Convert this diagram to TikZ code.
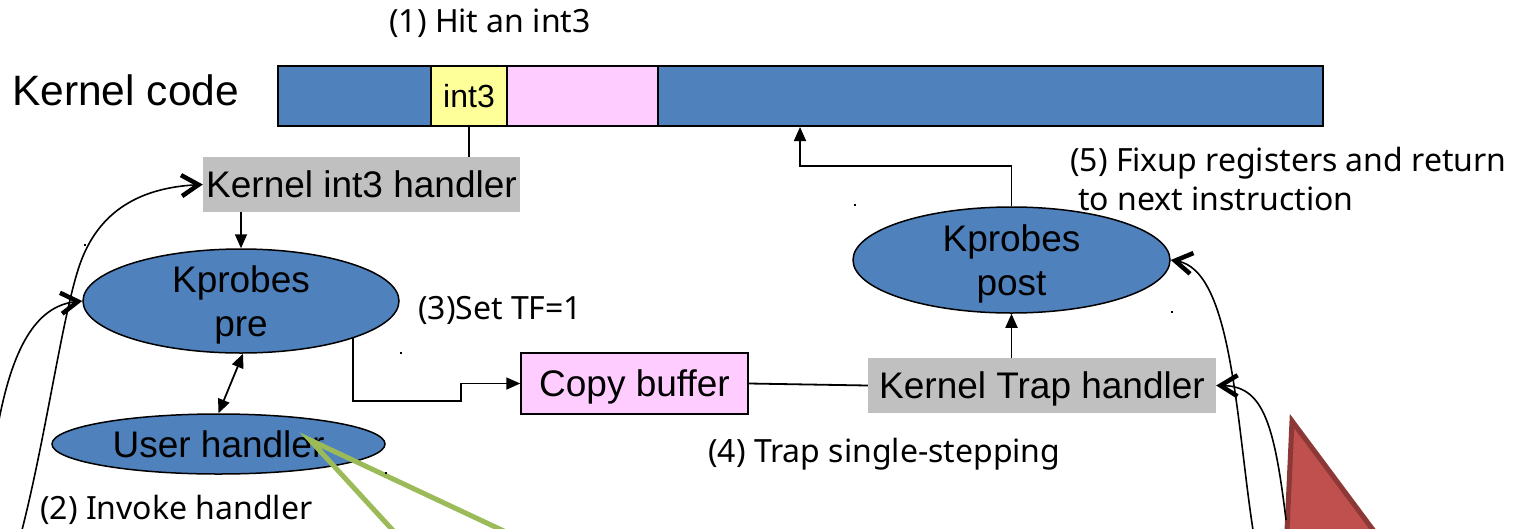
\documentclass[tikz,border=0pt]{standalone}
\usepackage{fontspec}
\setmainfont{Liberation Sans}
\newfontfamily\notefont{Noto Sans}
\usetikzlibrary{shapes.geometric,arrows.meta}
\definecolor{codeblue}{HTML}{4F81BD}
\definecolor{int3yellow}{HTML}{FFFF99}
\definecolor{bufpink}{HTML}{FFCCFF}
\definecolor{handlergray}{HTML}{C0C0C0}
\definecolor{leafgreen}{HTML}{9BBB59}
\definecolor{trifill}{HTML}{C0504D}
\definecolor{triedge}{HTML}{8C3836}
\tikzset{
  big/.style={font=\fontsize{37}{44}\selectfont},
  seg/.style={draw=black, line width=2pt, minimum height=60pt, inner sep=0pt, anchor=west},
  handlerbox/.style={fill=handlergray, inner sep=0pt, minimum height=55pt, text depth=0pt, big},
  probe/.style={ellipse, draw=black, line width=1.5pt, fill=codeblue, inner sep=0pt, align=center, text depth=0pt, big},
  note/.style={font=\notefont\fontsize{32}{38}\selectfont, anchor=base west, inner sep=0pt},
  flow/.style={line width=1.8pt, -{Triangle[length=14pt,width=12pt]}},
  dflow/.style={line width=1.8pt, {Triangle[length=14pt,width=12pt]}-{Triangle[length=14pt,width=12pt]}},
  flowline/.style={line width=1.8pt},
  callcurve/.style={line width=1.6pt, -{Straight Barb[length=17pt,width=21pt,line width=4.5pt]}},
  speck/.style={fill=black},
}
\begin{document}
\begin{tikzpicture}[x=1pt,y=-1pt]
\useasboundingbox (0,0) rectangle (1521,528);
\clip (0,0) rectangle (1521,528);

% kernel code bar
\node[anchor=base west, inner sep=0pt, font=\fontsize{42.5}{50}\selectfont] (kc) at (12,105) {Kernel code};
\node[seg, fill=codeblue, minimum width=153pt] (b1) at (277,96) {};
\node[seg, fill=int3yellow, minimum width=76pt, font=\fontsize{32}{38}\selectfont, text depth=0pt] (int3) at (430,96) {int3};
\node[seg, fill=bufpink, minimum width=151pt] (b3) at (506,96) {};
\node[seg, fill=codeblue, minimum width=665pt] (b4) at (657,96) {};

% handlers and probes
\node[handlerbox, minimum width=317pt] (ih) at (361.5,184.5) {Kernel int3 handler};
\node[probe, minimum width=316pt, minimum height=104pt] (pre) at (241,301) {Kprobes\\pre};
\node[probe, minimum width=333pt, minimum height=60pt] (uh) at (218.5,444) {User handler};
\node[draw=black, line width=1.5pt, fill=bufpink, inner sep=0pt, minimum width=227pt, minimum height=61pt, text depth=0pt, big] (cb) at (634.5,383.5) {Copy buffer};
\node[handlerbox, minimum width=348pt] (th) at (1042,385.5) {Kernel Trap handler};
\node[probe, minimum width=317pt, minimum height=106pt] (post) at (1011.5,260) {Kprobes\\post};

% annotations
\node[note, anchor=base] (n1) at (490,32) {(1) Hit an int3};
\node[note] (n2) at (40,519) {(2) Invoke handler};
\node[note] (n3) at (418,319) {(3)Set TF=1};
\node[note] (n4) at (708,462) {(4) Trap single-stepping};
\node[note] (n5a) at (1070,171) {(5) Fixup registers and return};
\node[note] (n5b) at (1078,210) {to next instruction};

% straight connectors
\draw[flowline] (int3.south) -- (int3.south |- ih.north);
\draw[flow] (pre.north |- ih.south) -- (pre.north);
\draw[dflow] ([xshift=2pt]pre.south) -- (uh.north);
\coordinate (jog) at (461,401);
\draw[flow] (pre.south east) |- (jog) |- (cb.west);
\draw[flowline] (cb.east) -- (th.west);
\draw[flow] (post.south |- th.north) -- (post.south);
\coordinate (ret) at (800,166);
\draw[flow] (post.north) |- (ret) -- (ret |- b4.south);

% pointer lines out of the user handler
\coordinate (gp) at (310,440);
\coordinate (g1) at (410,549);
\coordinate (g2) at (540,548);
\draw[leafgreen, line width=5pt] (g1) -- (gp) -- (g2);

% red triangle
\coordinate (t1) at (1292,421);
\coordinate (t2) at (1282,640);
\coordinate (t3) at (1455,640);
\draw[triedge, fill=trifill, line width=5pt, line join=miter] (t1) -- (t2) -- (t3) -- cycle;

% incoming call curves
\coordinate (cA) at (22,530);
\coordinate (cB) at (-2,425);
\coordinate (cC) at (1253,530);
\coordinate (cD) at (1286,520);
\draw[callcurve] (cA) .. controls (45,440) and (62,320) .. (78,270) .. controls (95,215) and (135,188) .. (ih.west);
\draw[callcurve] (cB) .. controls (12,350) and (35,306) .. (pre.west);
\draw[callcurve] (cC) .. controls (1236,420) and (1232,270) .. (post.east);
\draw[callcurve] (cD) .. controls (1274,420) and (1262,386) .. (th.east);

% stray specks
\fill[speck] (84,244) rectangle (86,246);
\fill[speck] (400,352) rectangle (402,354);
\fill[speck] (854,204) rectangle (856,206);
\fill[speck] (1171,311) rectangle (1173,313);
\fill[speck] (385,472) rectangle (387,474);
\end{tikzpicture}
\end{document}
